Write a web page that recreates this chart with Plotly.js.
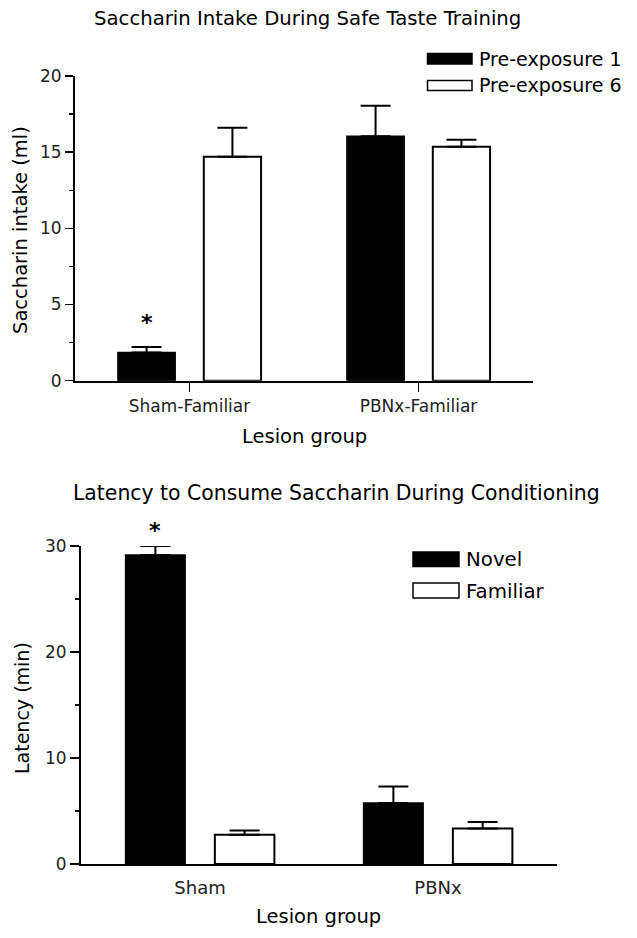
<!DOCTYPE html>
<html>
<head>
<meta charset="utf-8">
<script src="https://cdn.plot.ly/plotly-3.0.1.min.js"></script>
<style>html,body{margin:0;padding:0;background:#fff;}#chart{width:637px;height:938px;}</style>
</head>
<body>
<div id="chart"></div>
<script>
// ---- data ----
const catsTop = ['Sham-Familiar', 'PBNx-Familiar'];
const seriesTop = ['Pre-exposure 1', 'Pre-exposure 6'];
const pre1 = [1.85, 16.05];
const pre1Err = [0.37, 2.0];
const pre6 = [14.7, 15.35];
const pre6Err = [1.9, 0.47];

const catsBottom = ['Sham', 'PBNx'];
const seriesBottom = ['Novel', 'Familiar'];
const novel = [29.15, 5.75];
const novelErr = [0.85, 1.56];
const familiar = [2.75, 3.35];
const familiarErr = [0.4, 0.62];

const titleTop = 'Saccharin Intake During Safe Taste Training';
const titleBottom = 'Latency to Consume Saccharin During Conditioning';
const yTitleTop = 'Saccharin intake (ml)';
const yTitleBottom = 'Latency (min)';
const xTitle = 'Lesion group';

// ---- helpers ----
const W = 637, H = 938;
const X = px => px / W;
const Y = py => 1 - py / H;
const FONT = 'DejaVu Sans, Liberation Sans, Arial, sans-serif';
const BARGAP = 0.25, BARGROUPGAP = 0.333;
const slotOffset = (1 - BARGAP) / 4;

function errs(arr) {
  return {type: 'data', array: arr, symmetric: false, arrayminus: arr.map(() => 0),
          color: '#000', thickness: 2, width: 15};
}

const traces = [
  {type: 'bar', name: seriesTop[0], x: catsTop, y: pre1, xaxis: 'x', yaxis: 'y',
   marker: {color: '#000', line: {color: '#000', width: 1.5}}, error_y: errs(pre1Err)},
  {type: 'bar', name: seriesTop[1], x: catsTop, y: pre6, xaxis: 'x', yaxis: 'y',
   marker: {color: '#fff', line: {color: '#000', width: 2}}, error_y: errs(pre6Err)},
  {type: 'bar', name: seriesBottom[0], x: catsBottom, y: novel, xaxis: 'x2', yaxis: 'y2',
   marker: {color: '#000', line: {color: '#000', width: 1.5}}, error_y: errs(novelErr)},
  {type: 'bar', name: seriesBottom[1], x: catsBottom, y: familiar, xaxis: 'x2', yaxis: 'y2',
   marker: {color: '#fff', line: {color: '#000', width: 2}}, error_y: errs(familiarErr)}
];

const tickFont = {family: FONT, size: 17, color: '#222'};
const axisCommon = {showline: true, linecolor: '#000', linewidth: 2, showgrid: false,
                    zeroline: false, fixedrange: true, automargin: false};

const layout = {
  width: W, height: H,
  margin: {l: 0, r: 0, t: 0, b: 0},
  paper_bgcolor: '#fff', plot_bgcolor: '#fff',
  showlegend: false,
  barmode: 'group', bargap: BARGAP, bargroupgap: BARGROUPGAP,
  font: {family: FONT, color: '#000'},
  xaxis: Object.assign({}, axisCommon, {
    type: 'category', categoryarray: catsTop, range: [-0.5, 1.5],
    domain: [X(75), X(533)], anchor: 'y',
    ticks: 'outside', ticklen: 9, tickwidth: 1.5, tickcolor: '#000',
    tickfont: tickFont}),
  yaxis: Object.assign({}, axisCommon, {
    range: [0, 20], domain: [Y(380.7), Y(76)], anchor: 'x',
    tickvals: [0, 5, 10, 15, 20],
    ticks: 'outside', ticklen: 8, tickwidth: 1.5, tickcolor: '#000',
    minor: {dtick: 2.5, ticks: 'outside', ticklen: 4, tickwidth: 1.5, tickcolor: '#000'},
    tickfont: tickFont}),
  xaxis2: Object.assign({}, axisCommon, {
    type: 'category', categoryarray: catsBottom, range: [-0.5, 1.5],
    domain: [X(81), X(557)], anchor: 'y2',
    ticks: 'outside', ticklen: 6, tickwidth: 1, tickcolor: 'rgba(0,0,0,0)',
    tickfont: {family: FONT, size: 18, color: '#222'}}),
  yaxis2: Object.assign({}, axisCommon, {
    range: [0, 30], domain: [Y(864), Y(546)], anchor: 'x2',
    tickvals: [0, 10, 20, 30],
    ticks: 'outside', ticklen: 9, tickwidth: 1.5, tickcolor: '#000',
    minor: {dtick: 5, ticks: 'outside', ticklen: 4.5, tickwidth: 1.5, tickcolor: '#000'},
    tickfont: tickFont}),
  annotations: [],
  shapes: []
};

function ann(text, px, py, size, extra) {
  return Object.assign({text: text, xref: 'paper', yref: 'paper', x: X(px), y: Y(py),
    xanchor: 'center', yanchor: 'middle', showarrow: false,
    font: {family: FONT, size: size, color: '#000'}}, extra || {});
}

// titles
layout.annotations.push(ann(titleTop, 307, 18, 19.7));
layout.annotations.push(ann(titleBottom, 336, 493, 20.4));
// axis titles
layout.annotations.push(ann(yTitleTop, 21, 230, 19.5, {textangle: -90}));
layout.annotations.push(ann(yTitleBottom, 22, 708, 19, {textangle: -90}));
layout.annotations.push(ann(xTitle, 304, 436.5, 19.5));
layout.annotations.push(ann(xTitle, 318.5, 916.5, 19.5));

// legends (custom, long rectangles like the reference)
function legendItem(name, fill, rx0, rx1, ry0, ry1, tx, ty, size) {
  layout.shapes.push({type: 'rect', xref: 'paper', yref: 'paper',
    x0: X(rx0), x1: X(rx1), y0: Y(ry1), y1: Y(ry0),
    fillcolor: fill, line: {color: '#000', width: 1.5}});
  layout.annotations.push(ann(name, tx, ty, size, {xanchor: 'left'}));
}
legendItem(seriesTop[0], '#000', 427.5, 472, 53.5, 64, 477, 58.5, 19);
legendItem(seriesTop[1], '#fff', 427.5, 472, 80.5, 90.5, 477, 85.5, 19);
legendItem(seriesBottom[0], '#000', 413, 459, 552, 566.5, 464.5, 559.5, 19.8);
legendItem(seriesBottom[1], '#fff', 413, 459, 583, 598, 464.5, 591, 19.8);

// significance asterisks above the first bars
layout.annotations.push({text: '<b>*</b>', xref: 'x', yref: 'y',
  x: 0 - slotOffset, y: pre1[0] + pre1Err[0], xanchor: 'center', yanchor: 'middle',
  yshift: 24, showarrow: false, font: {family: FONT, size: 22, color: '#000'}});
layout.annotations.push({text: '<b>*</b>', xref: 'x2', yref: 'y2',
  x: 0 - slotOffset, y: novel[0] + novelErr[0], xanchor: 'center', yanchor: 'middle',
  yshift: 16, showarrow: false, font: {family: FONT, size: 22, color: '#000'}});

Plotly.newPlot('chart', traces, layout, {displayModeBar: false, staticPlot: true});
</script>
</body>
</html>
